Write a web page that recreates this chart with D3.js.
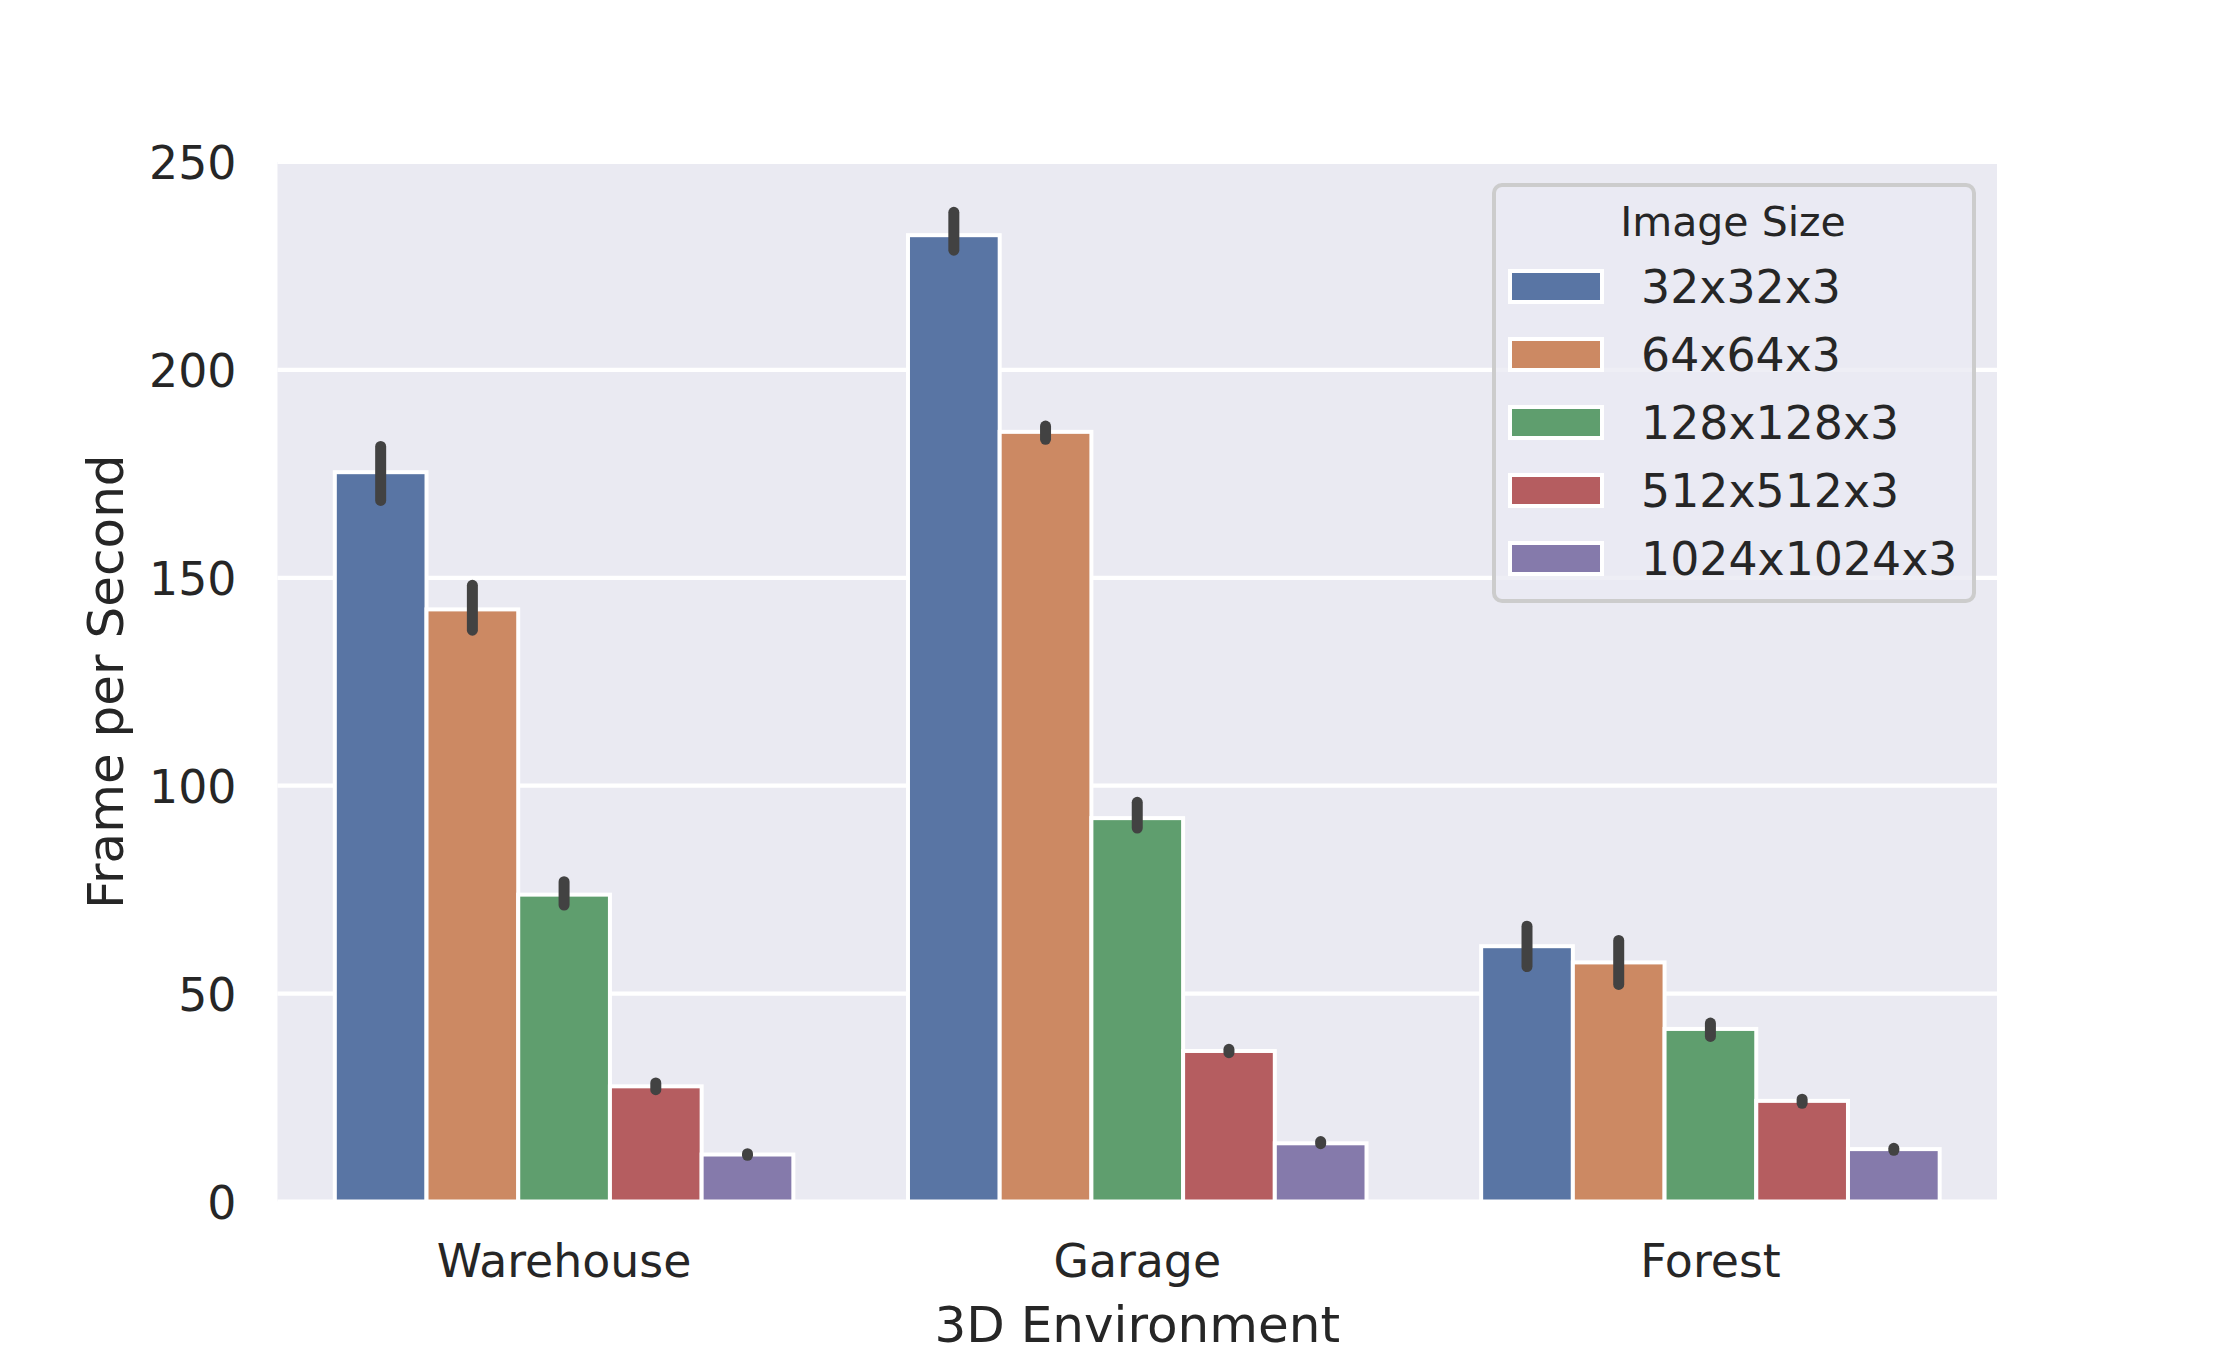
<!DOCTYPE html>
<html>
<head>
<meta charset="utf-8">
<script src="https://cdn.jsdelivr.net/npm/d3@7"></script>
<style>
  html, body { margin: 0; padding: 0; background: #ffffff; }
  svg { display: block; }
  text { font-family: "DejaVu Sans", sans-serif; fill: #262626; }
</style>
</head>
<body>
<svg id="chart" width="2220" height="1350"></svg>
<script>
// ---- data ----
const categories = ["Warehouse", "Garage", "Forest"];
const imageSizes = ["32x32x3", "64x64x3", "128x128x3", "512x512x3", "1024x1024x3"];
const colors = ["#5975a4", "#cc8963", "#5f9e6e", "#b55d60", "#857aab"];
// mean FPS per image size, ordered as categories
const fps32   = [175.4, 232.4, 61.4];
const fps64   = [142.4, 185.1, 57.5];
const fps128  = [73.8, 92.2, 41.5];
const fps512  = [27.7, 36.2, 24.2];
const fps1024 = [11.3, 14.0, 12.6];
// confidence interval bounds
const lo32   = [168.6, 228.8, 56.5];
const hi32   = [181.6, 237.9, 66.2];
const lo64   = [137.4, 183.3, 52.2];
const hi64   = [148.2, 186.5, 62.8];
const lo128  = [71.3, 89.8, 39.7];
const hi128  = [76.9, 96.0, 42.9];
const lo512  = [26.9, 35.8, 23.6];
const hi512  = [28.5, 36.6, 24.6];
const lo1024 = [11.1, 13.9, 12.3];
const hi1024 = [11.5, 14.4, 12.8];
const yTicks = [0, 50, 100, 150, 200, 250];
const xLabel = "3D Environment";
const yLabel = "Frame per Second";
const legendTitle = "Image Size";

const means = [fps32, fps64, fps128, fps512, fps1024];
const lows = [lo32, lo64, lo128, lo512, lo1024];
const highs = [hi32, hi64, hi128, hi512, hi1024];

const rows = [];
imageSizes.forEach((s, si) => {
  categories.forEach((c, ci) => {
    rows.push({ size: s, si, cat: c, v: means[si][ci], lo: lows[si][ci], hi: highs[si][ci] });
  });
});

// ---- layout ----
const L = 277.5, R = 1997, T = 162, B = 1201.5;
const svg = d3.select("#chart");

const x = d3.scaleBand().domain(categories).range([L, R]).paddingInner(0).paddingOuter(0);
const xInner = d3.scaleBand().domain(imageSizes).range([0.1 * x.bandwidth(), 0.9 * x.bandwidth()]).padding(0);
const y = d3.scaleLinear().domain([0, 250]).range([B, T]);

// panel background
svg.append("rect").attr("x", L).attr("y", T).attr("width", R - L).attr("height", B - T).attr("fill", "#eaeaf2");

// grid
svg.append("g").selectAll("line").data(yTicks).join("line")
  .attr("x1", L).attr("x2", R)
  .attr("y1", d => y(d)).attr("y2", d => y(d))
  .attr("stroke", "#ffffff").attr("stroke-width", 4.2);

// bars
svg.append("g").selectAll("rect").data(rows).join("rect")
  .attr("x", d => x(d.cat) + xInner(d.size))
  .attr("y", d => y(d.v))
  .attr("width", xInner.bandwidth())
  .attr("height", d => y(0) - y(d.v))
  .attr("fill", d => colors[d.si])
  .attr("stroke", "#ffffff")
  .attr("stroke-width", 4);

// error bars
svg.append("g").selectAll("line").data(rows).join("line")
  .attr("x1", d => x(d.cat) + xInner(d.size) + xInner.bandwidth() / 2)
  .attr("x2", d => x(d.cat) + xInner(d.size) + xInner.bandwidth() / 2)
  .attr("y1", d => y(d.lo)).attr("y2", d => y(d.hi))
  .attr("stroke", "#424242").attr("stroke-width", 11).attr("stroke-linecap", "round");

// y axis tick labels
const yAxis = d3.axisLeft(y).tickValues(yTicks).tickSize(0).tickPadding(0);
const gy = svg.append("g").attr("transform", `translate(${L - 41},0)`).call(yAxis);
gy.select(".domain").remove();
gy.selectAll("text").attr("font-size", 45.8).attr("font-family", "DejaVu Sans")
  .attr("fill", "#262626").attr("x", 0).attr("dy", "0.36em");

// x axis tick labels
const xAxis = d3.axisBottom(x).tickSize(0).tickPadding(0);
const gx = svg.append("g").attr("transform", `translate(0,${B})`).call(xAxis);
gx.select(".domain").remove();
gx.selectAll("text").attr("font-size", 45.8).attr("font-family", "DejaVu Sans")
  .attr("fill", "#262626").attr("y", 1277 - B).attr("dy", 0);

// axis labels
svg.append("text").attr("x", (L + R) / 2).attr("y", 1341.7)
  .attr("text-anchor", "middle").attr("font-size", 50).text(xLabel);
svg.append("text")
  .attr("transform", `translate(123.3,${(T + B) / 2}) rotate(-90)`)
  .attr("text-anchor", "middle").attr("font-size", 50).text(yLabel);

// legend
const lg = svg.append("g");
lg.append("rect").attr("x", 1494).attr("y", 185).attr("width", 480).attr("height", 416)
  .attr("rx", 8).attr("ry", 8)
  .attr("fill", "#eaeaf2").attr("fill-opacity", 0.8)
  .attr("stroke", "#cccccc").attr("stroke-width", 4);
lg.append("text").attr("x", 1733).attr("y", 236).attr("text-anchor", "middle")
  .attr("font-size", 41).text(legendTitle);
const rowY = d3.scalePoint().domain(imageSizes).range([286.5, 558.5]);
const items = lg.selectAll("g.item").data(imageSizes).join("g").attr("class", "item");
items.append("rect")
  .attr("x", 1510).attr("y", d => rowY(d) - 15.5)
  .attr("width", 92).attr("height", 31)
  .attr("fill", (d, i) => colors[i]).attr("stroke", "#ffffff").attr("stroke-width", 4);
items.append("text")
  .attr("x", 1641).attr("y", d => rowY(d) + 16.5)
  .attr("font-size", 45.8).text(d => d);
</script>
</body>
</html>
